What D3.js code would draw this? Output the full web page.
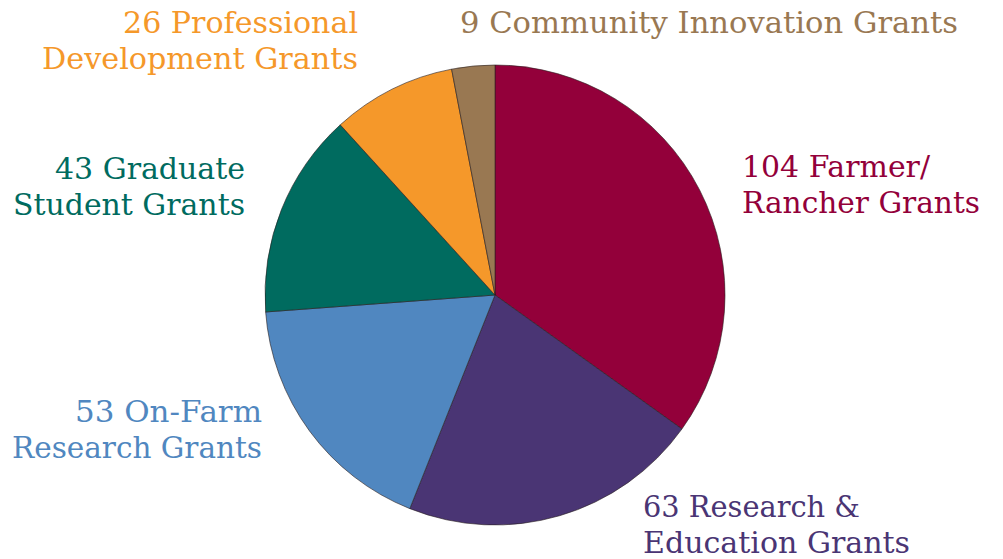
<!DOCTYPE html>
<html>
<head>
<meta charset="utf-8">
<script src="https://cdn.jsdelivr.net/npm/d3@7"></script>
<style>
html,body{margin:0;padding:0;background:#fff;}
svg{display:block;}
</style>
</head>
<body>
<svg id="chart" width="1003" height="559"></svg>
<script>
const categories = ["Farmer/Rancher", "Research & Education", "On-Farm Research", "Graduate Student", "Professional Development", "Community Innovation"];
const values = [104, 63, 53, 43, 26, 9];
const colors = ["#93003A", "#4A3574", "#5087C0", "#006B5F", "#F5982A", "#997852"];
const labelLines = [
  ["104 Farmer/", "Rancher Grants"],
  ["63 Research &", "Education Grants"],
  ["53 On-Farm", "Research Grants"],
  ["43 Graduate", "Student Grants"],
  ["26 Professional", "Development Grants"],
  ["9 Community Innovation Grants"]
];

const svg = d3.select("#chart");
const cx = 495, cy = 295, R = 230;

const pie = d3.pie().sort(null).value(d => d.v);
const data = categories.map((c, i) => ({c, v: values[i], col: colors[i], lines: labelLines[i]}));
const arcs = pie(data);
const arc = d3.arc().innerRadius(0).outerRadius(R);

const g = svg.append("g").attr("transform", `translate(${cx},${cy})`);
g.selectAll("path").data(arcs).join("path")
  .attr("d", arc)
  .attr("fill", d => d.data.col)
  .attr("stroke", "rgba(40,30,30,0.6)")
  .attr("stroke-width", 1);

// label placement (layout only): anchor point, alignment and line widths
const layout = [
  {x: 742, y: 177, anchor: "start", w: [188, 238]},
  {x: 643, y: 517, anchor: "start", w: [217, 267]},
  {x: 262, y: 422, anchor: "end", w: [187, 250]},
  {x: 245, y: 179, anchor: "end", w: [190, 232]},
  {x: 358, y: 33, anchor: "end", w: [235, 316]},
  {x: 460, y: 33, anchor: "start", w: [498]}
];
const lineH = 36;
const lbl = svg.append("g")
  .attr("font-family", "Georgia, 'DejaVu Serif', serif")
  .attr("font-size", 30.5);
arcs.forEach((a, i) => {
  const L = layout[i];
  const t = lbl.append("text")
    .attr("text-anchor", L.anchor)
    .attr("fill", a.data.col);
  a.data.lines.forEach((s, j) => {
    t.append("tspan").attr("x", L.x).attr("y", L.y + j * lineH)
      .attr("textLength", L.w[j]).attr("lengthAdjust", "spacingAndGlyphs")
      .text(s);
  });
});
</script>
</body>
</html>
